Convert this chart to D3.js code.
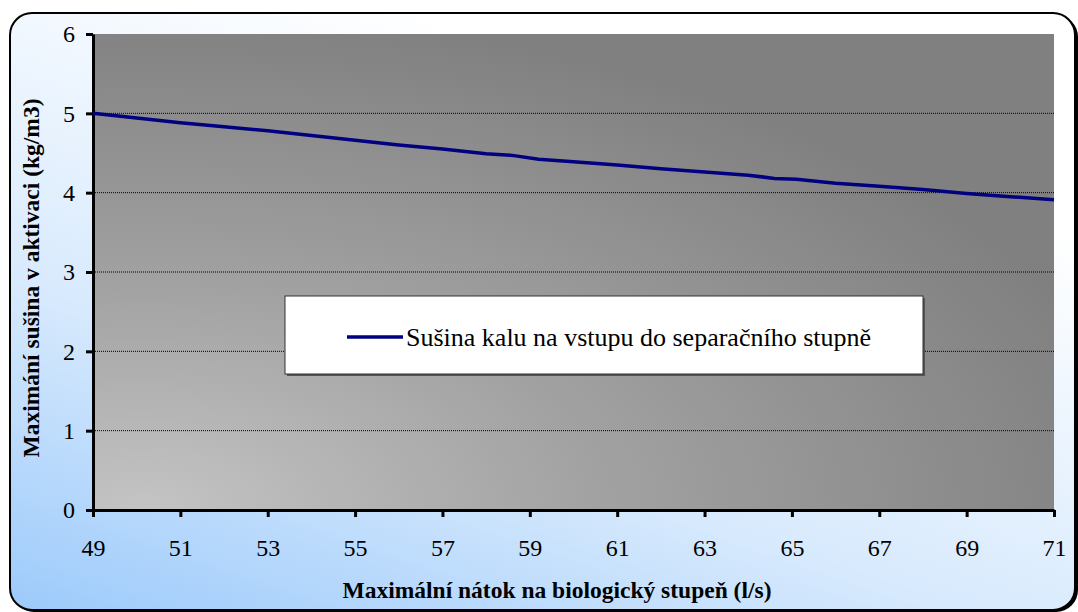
<!DOCTYPE html>
<html>
<head>
<meta charset="utf-8">
<script src="https://cdn.jsdelivr.net/npm/d3@7"></script>
<style>
  body { margin: 0; background: #fff; }
  svg { display: block; }
  svg text { font-family: "Liberation Serif", "Times New Roman", serif; fill: #000; }
</style>
</head>
<body>
<script>
// data
var xValues = [49, 50, 51, 52, 53, 54, 55, 56, 57, 58, 58.6, 59.2, 60, 61, 62, 63, 64, 64.6, 65.1, 66, 67, 68, 69, 70, 71];
var drySolids = [5.0, 4.94, 4.88, 4.83, 4.78, 4.72, 4.66, 4.60, 4.55, 4.49, 4.47, 4.42, 4.39, 4.35, 4.30, 4.26, 4.22, 4.18, 4.17, 4.12, 4.08, 4.04, 3.99, 3.95, 3.91];
var xTicks = [49, 51, 53, 55, 57, 59, 61, 63, 65, 67, 69, 71];
var yTicks = [0, 1, 2, 3, 4, 5, 6];
var seriesName = "Sušina kalu na vstupu do separačního stupně";

var W = 1078, H = 612;
var m = { left: 93, right: 24, top: 34, bottom: 102 };
var serif = "'Liberation Serif', 'Times New Roman', serif";

var svg = d3.select("body").append("svg").attr("width", W).attr("height", H);
var defs = svg.append("defs");

var bg = defs.append("linearGradient").attr("id", "bg")
  .attr("x1", 0).attr("y1", 1).attr("x2", 0.55).attr("y2", 0.1);
bg.append("stop").attr("offset", 0).attr("stop-color", "#9ccafb");
bg.append("stop").attr("offset", 0.45).attr("stop-color", "#d8eafd");
bg.append("stop").attr("offset", 1).attr("stop-color", "#ffffff");

var pg = defs.append("radialGradient").attr("id", "plotbg")
  .attr("cx", 0.05).attr("cy", 1).attr("r", 1.05).attr("fx", 0.05).attr("fy", 1);
pg.append("stop").attr("offset", 0).attr("stop-color", "#c4c4c4");
pg.append("stop").attr("offset", 0.45).attr("stop-color", "#a2a2a2");
pg.append("stop").attr("offset", 1).attr("stop-color", "#808080");

// chart frame
svg.append("rect").attr("x", 12).attr("y", 15).attr("width", W - 12).attr("height", H - 15)
  .attr("rx", 22).attr("fill", "#000");
svg.append("rect").attr("x", 10).attr("y", 13).attr("width", W - 13).attr("height", H - 15)
  .attr("rx", 22).attr("fill", "url(#bg)").attr("stroke", "#000").attr("stroke-width", 2);

var x = d3.scaleLinear().domain([49, 71]).range([m.left, W - m.right]);
var y = d3.scaleLinear().domain([0, 6]).range([H - m.bottom, m.top]);

svg.append("rect").attr("x", x(49)).attr("y", y(6))
  .attr("width", x(71) - x(49)).attr("height", y(0) - y(6))
  .attr("fill", "url(#plotbg)");

// gridlines
svg.append("g").selectAll("line").data(yTicks.filter(function (d) { return d > 0 && d < 6; }))
  .join("line")
  .attr("x1", x(49)).attr("x2", x(71))
  .attr("y1", function (d) { return y(d); }).attr("y2", function (d) { return y(d); })
  .attr("stroke", "#000").attr("stroke-width", 1).attr("stroke-dasharray", "1,1");

// axes
var xAxis = svg.append("g").attr("transform", "translate(0," + y(0) + ")")
  .call(d3.axisBottom(x).tickValues(xTicks).tickFormat(d3.format("d"))
    .tickSize(7).tickPadding(22).tickSizeOuter(0));
var yAxis = svg.append("g").attr("transform", "translate(" + x(49) + ",0)")
  .call(d3.axisLeft(y).tickValues(yTicks).tickFormat(d3.format("d"))
    .tickSize(7).tickPadding(11).tickSizeOuter(0));
[xAxis, yAxis].forEach(function (g) {
  g.attr("font-family", null).attr("font-size", null);
  g.select(".domain").attr("stroke", "#000").attr("stroke-width", 3);
  g.selectAll(".tick line").attr("stroke", "#000").attr("stroke-width", 3);
  g.selectAll("text").style("font-family", serif).style("font-size", "24px").style("fill", "#000");
});

// series line
var line = d3.line().x(function (d, i) { return x(xValues[i]); }).y(function (d) { return y(d); });
svg.append("path").datum(drySolids).attr("d", line)
  .attr("fill", "none").attr("stroke", "#000080").attr("stroke-width", 3.5);

// axis titles
svg.append("text").attr("x", 557).attr("y", 598)
  .attr("text-anchor", "middle").style("font-family", serif)
  .style("font-weight", "bold").style("font-size", "23.5px")
  .text("Maximální nátok na biologický stupeň (l/s)");
svg.append("text").attr("transform", "translate(39,278) rotate(-90)")
  .attr("text-anchor", "middle").style("font-family", serif)
  .style("font-weight", "bold").style("font-size", "23.5px")
  .text("Maximání sušina v aktivaci (kg/m3)");

// legend
var lg = svg.append("g");
lg.append("rect").attr("x", 287).attr("y", 298).attr("width", 638).attr("height", 78).attr("fill", "#555");
lg.append("rect").attr("x", 285).attr("y", 296).attr("width", 638).attr("height", 78)
  .attr("fill", "#fff").attr("stroke", "#333").attr("stroke-width", 1);
lg.append("line").attr("x1", 347).attr("x2", 403).attr("y1", 337).attr("y2", 337)
  .attr("stroke", "#000080").attr("stroke-width", 3.5);
lg.append("text").attr("x", 406).attr("y", 346).style("font-family", serif)
  .style("font-size", "26px").text(seriesName);
</script>
</body>
</html>
